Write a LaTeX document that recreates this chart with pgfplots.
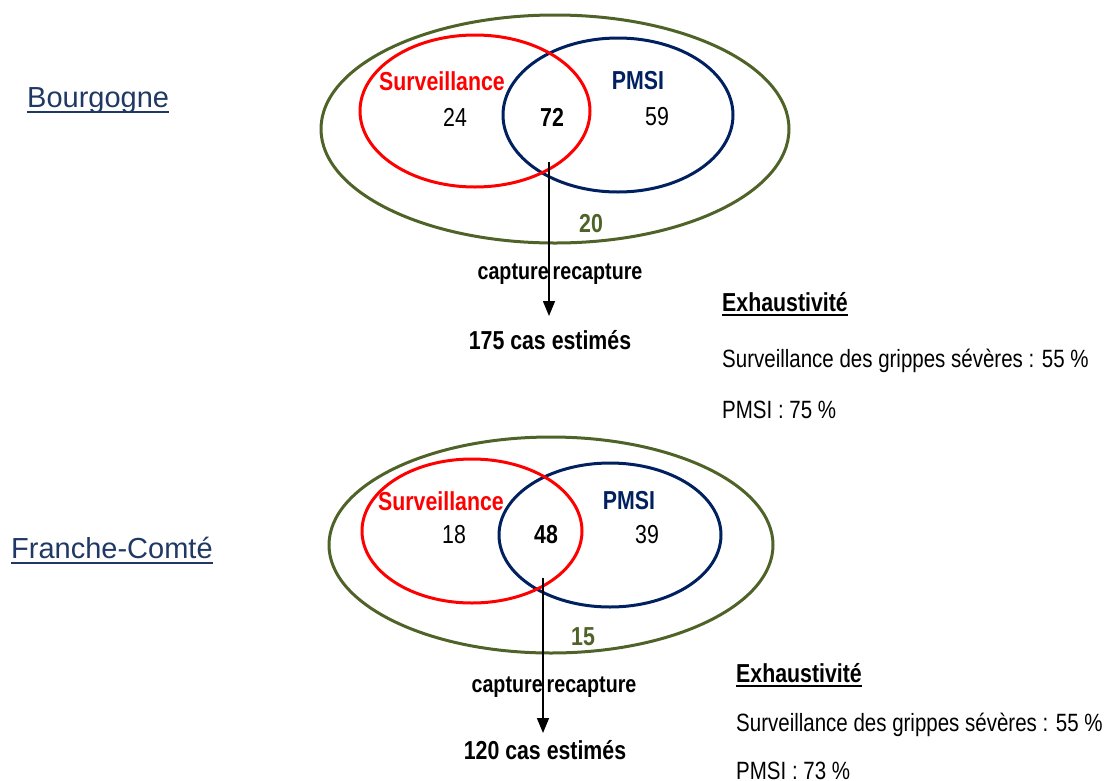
\documentclass[border=0pt]{standalone}
\usepackage{pgfplots}
\usepackage{pgfplotstable}
\pgfplotsset{compat=1.18}
\usepackage{fontspec}
\setmainfont{Liberation Sans}
\newfontfamily\narrow{Liberation Sans}[FakeStretch=0.82]
\usetikzlibrary{arrows.meta}
\definecolor{svred}{HTML}{FF0000}
\definecolor{pmsiblue}{HTML}{002060}
\definecolor{olivegr}{HTML}{4F6228}
\definecolor{regblue}{HTML}{1F3864}

% region counts: x y value (picture coordinates)
\pgfplotstableread{
x y n
455 117 24
657 117 59
454 535 18
647 535 39
}\regcounts
\pgfplotstableread{
x y n
552 117 72
546 535 48
}\boldcounts
\pgfplotstableread{
x y n
591 224 20
583 637 15
}\outcounts

\begin{document}
\begin{tikzpicture}
\begin{axis}[hide axis, scale only axis, width=1112pt, height=780pt,
  xmin=0, xmax=1112, ymin=0, ymax=780, y dir=reverse, clip=false]

% ---------- Bourgogne ----------
\draw[olivegr, line width=3pt] (axis cs:555,129) ellipse [x radius=234, y radius=114];
\draw[pmsiblue, line width=3pt] (axis cs:618,115) ellipse [x radius=115, y radius=77];
\draw[svred, line width=3pt] (axis cs:475,111) ellipse [x radius=115, y radius=76];
\draw[-{Triangle[length=15pt,width=12pt]}, line width=1.5pt] (axis cs:549,162) -- (axis cs:549,316);

\node[anchor=base west, inner sep=0, text=regblue, font=\fontsize{29}{34}\selectfont] (bg) at (axis cs:27,107) {Bourgogne};
\draw[regblue, line width=2.5pt] ([yshift=-5pt]bg.base west) -- ([yshift=-5pt]bg.base east);

\node[text=svred, font={\narrow\bfseries\fontsize{26}{30}\selectfont}] at (axis cs:442,81) {Surveillance};
\node[text=pmsiblue, font={\narrow\bfseries\fontsize{26}{30}\selectfont}] at (axis cs:638,81) {PMSI};
\node[fill=white, inner sep=1pt, font={\narrow\bfseries\fontsize{24}{28}\selectfont}] at (axis cs:560,274) {capture\hspace{4pt}recapture};
\draw[line width=1.5pt] (axis cs:549,262) -- (axis cs:549,290);
\node[font={\narrow\bfseries\fontsize{26}{30}\selectfont}] at (axis cs:550,340) {175 cas estimés};

\node[anchor=base west, inner sep=0, font={\narrow\bfseries\fontsize{26}{30}\selectfont}] (ex1) at (axis cs:722,311) {Exhaustivité};
\draw[line width=2pt] ([yshift=-4pt]ex1.base west) -- ([yshift=-4pt]ex1.base east);
\node[anchor=base west, inner sep=0, font={\narrow\fontsize{25}{30}\selectfont}] at (axis cs:722,367) {Surveillance des grippes sévères : 55 \%};
\node[anchor=base west, inner sep=0, font={\narrow\fontsize{25}{30}\selectfont}] at (axis cs:722,418) {PMSI : 75 \%};

% ---------- Franche-Comté ----------
\draw[olivegr, line width=3pt] (axis cs:551,545) ellipse [x radius=222, y radius=108];
\draw[pmsiblue, line width=3pt] (axis cs:610,535) ellipse [x radius=111, y radius=72];
\draw[svred, line width=3pt] (axis cs:472,531) ellipse [x radius=110, y radius=72];
\draw[-{Triangle[length=15pt,width=12pt]}, line width=1.5pt] (axis cs:543,578) -- (axis cs:543,733);

\node[anchor=base west, inner sep=0, text=regblue, font=\fontsize{29}{34}\selectfont] (fc) at (axis cs:11,558) {Franche-Comté};
\draw[regblue, line width=2.5pt] ([yshift=-5pt]fc.base west) -- ([yshift=-5pt]fc.base east);

\node[text=svred, font={\narrow\bfseries\fontsize{26}{30}\selectfont}] at (axis cs:441,501) {Surveillance};
\node[text=pmsiblue, font={\narrow\bfseries\fontsize{26}{30}\selectfont}] at (axis cs:629,501) {PMSI};
\node[fill=white, inner sep=1pt, font={\narrow\bfseries\fontsize{24}{28}\selectfont}] at (axis cs:554,687) {capture\hspace{4pt}recapture};
\draw[line width=1.5pt] (axis cs:543,675) -- (axis cs:543,703);
\node[font={\narrow\bfseries\fontsize{26}{30}\selectfont}] at (axis cs:545,750) {120 cas estimés};

\node[anchor=base west, inner sep=0, font={\narrow\bfseries\fontsize{26}{30}\selectfont}] (ex2) at (axis cs:736,682) {Exhaustivité};
\draw[line width=2pt] ([yshift=-4pt]ex2.base west) -- ([yshift=-4pt]ex2.base east);
\node[anchor=base west, inner sep=0, font={\narrow\fontsize{25}{30}\selectfont}] at (axis cs:736,731) {Surveillance des grippes sévères : 55 \%};
\node[anchor=base west, inner sep=0, font={\narrow\fontsize{25}{30}\selectfont}] at (axis cs:736,779) {PMSI : 73 \%};

% ---------- counts ----------
\addplot[draw=none, mark=none, nodes near coords, point meta=explicit symbolic,
  every node near coord/.append style={anchor=center, text=black, font={\narrow\fontsize{26}{30}\selectfont}}]
  table[x=x, y=y, meta=n] {\regcounts};
\addplot[draw=none, mark=none, nodes near coords, point meta=explicit symbolic,
  every node near coord/.append style={anchor=center, text=black, font={\narrow\bfseries\fontsize{26}{30}\selectfont}}]
  table[x=x, y=y, meta=n] {\boldcounts};
\addplot[draw=none, mark=none, nodes near coords, point meta=explicit symbolic,
  every node near coord/.append style={anchor=center, text=olivegr, font={\narrow\bfseries\fontsize{26}{30}\selectfont}}]
  table[x=x, y=y, meta=n] {\outcounts};
\end{axis}
\pgfresetboundingbox
\path (current axis.south west) rectangle (current axis.north east);
\end{tikzpicture}
\end{document}
